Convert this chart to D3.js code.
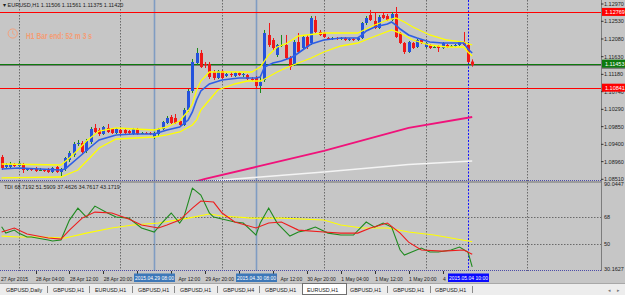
<!DOCTYPE html>
<html>
<head>
<meta charset="utf-8">
<script src="https://cdn.jsdelivr.net/npm/d3@7"></script>
<style>
html, body { margin: 0; padding: 0; background: #c6c6c6; overflow: hidden; }
svg { display: block; font-family: "Liberation Sans", Arial, sans-serif; }
.ax { font-size: 5.5px; fill: #1c1c1c; }
.tm { font-size: 5px; fill: #1c1c1c; }
.tab { font-size: 5.4px; fill: #202020; }
</style>
</head>
<body>
<script>
// EURUSD H1, bar 0 = 27 Apr 2015 20:00 ... bar 111 = 4 May 2015 11:00 (weekend skipped)
var opens = [1.09078,1.08824,1.08824,1.08874,1.08849,1.08900,1.08747,1.08773,1.08773,1.08747,
  1.08747,1.08773,1.08696,1.08824,1.08696,1.08773,1.09002,1.09129,1.09409,1.09434,
  1.09231,1.09460,1.09816,1.09765,1.09663,1.09816,1.09790,1.09688,1.09765,1.09765,
  1.09739,1.09663,1.09790,1.09688,1.09688,1.09688,1.09587,1.09663,1.09790,1.09943,
  1.10095,1.10070,1.09994,1.09892,1.10274,1.10757,1.11469,1.11724,1.11444,1.11444,
  1.11240,1.11088,1.11266,1.11139,1.11189,1.11139,1.11215,1.11164,1.11164,1.11062,
  1.11088,1.10884,1.11037,1.12182,1.12054,1.11673,1.11927,1.11927,1.11596,1.11418,
  1.12003,1.11851,1.12131,1.11978,1.12563,1.12258,1.12232,1.12105,1.12080,1.12105,
  1.12080,1.12105,1.12054,1.12080,1.12054,1.12105,1.12487,1.12690,1.12538,1.12360,
  1.12690,1.12665,1.12563,1.12716,1.12232,1.11978,1.11749,1.11978,1.11876,1.12054,
  1.11876,1.11927,1.11876,1.11902,1.11851,1.11927,1.11902,1.11902,1.11927,1.12003,
  1.11927,1.11506];
var highs = [1.09129,1.08925,1.08951,1.08925,1.08976,1.08925,1.08798,1.08798,1.08824,1.08798,
  1.08773,1.08798,1.08824,1.08849,1.08798,1.09078,1.09231,1.09460,1.09510,1.09485,
  1.09536,1.09841,1.09917,1.09816,1.09866,1.09917,1.09816,1.09816,1.09790,1.09790,
  1.09765,1.09816,1.09816,1.09714,1.09714,1.09714,1.09714,1.09816,1.09994,1.10121,
  1.10146,1.10172,1.10019,1.10325,1.10808,1.11571,1.11851,1.11800,1.11495,1.11495,
  1.11291,1.11291,1.11291,1.11215,1.11240,1.11240,1.11240,1.11215,1.11189,1.11113,
  1.11139,1.11164,1.12309,1.12487,1.12105,1.11953,1.12182,1.12182,1.11647,1.12054,
  1.12232,1.12182,1.12182,1.12665,1.12665,1.12309,1.12258,1.12131,1.12131,1.12131,
  1.12131,1.12131,1.12105,1.12105,1.12131,1.12512,1.12665,1.12818,1.12741,1.12690,
  1.12741,1.12716,1.12767,1.12894,1.12258,1.12003,1.12029,1.12003,1.12080,1.12080,
  1.12003,1.11953,1.11902,1.11927,1.12003,1.11953,1.11927,1.11953,1.12029,1.12258,
  1.11953,1.11561];
var lows = [1.08747,1.08798,1.08798,1.08824,1.08824,1.08671,1.08722,1.08722,1.08696,1.08722,
  1.08696,1.08671,1.08671,1.08671,1.08594,1.08722,1.08951,1.09078,1.09358,1.09154,
  1.09180,1.09409,1.09688,1.09612,1.09638,1.09688,1.09663,1.09663,1.09663,1.09663,
  1.09663,1.09638,1.09638,1.09663,1.09663,1.09638,1.09536,1.09612,1.09765,1.09917,
  1.09917,1.09917,1.09841,1.09866,1.10223,1.10706,1.11418,1.11342,1.11342,1.11062,
  1.11037,1.11062,1.11062,1.11113,1.11113,1.11113,1.11139,1.11113,1.11037,1.11011,
  1.10833,1.10706,1.10986,1.11876,1.11800,1.11622,1.11876,1.11571,1.11291,1.11393,
  1.11724,1.11800,1.11825,1.11927,1.12232,1.12156,1.12105,1.12054,1.12054,1.12054,
  1.12054,1.12029,1.12029,1.12029,1.12029,1.12080,1.12436,1.12538,1.12334,1.12334,
  1.12589,1.12538,1.12538,1.12105,1.11953,1.11698,1.11724,1.11825,1.11851,1.11953,
  1.11851,1.11825,1.11851,1.11749,1.11825,1.11851,1.11876,1.11876,1.11902,1.11902,
  1.11469,1.11375];
var closes = [1.08798,1.08874,1.08900,1.08849,1.08925,1.08747,1.08773,1.08747,1.08722,1.08747,
  1.08722,1.08696,1.08798,1.08696,1.08773,1.09052,1.09180,1.09409,1.09434,1.09205,
  1.09485,1.09790,1.09714,1.09663,1.09841,1.09714,1.09688,1.09790,1.09688,1.09688,
  1.09688,1.09790,1.09663,1.09688,1.09663,1.09663,1.09688,1.09790,1.09968,1.10070,
  1.09943,1.09943,1.09892,1.10274,1.10757,1.11495,1.11724,1.11367,1.11418,1.11113,
  1.11088,1.11266,1.11088,1.11189,1.11164,1.11215,1.11164,1.11189,1.11062,1.11037,
  1.10884,1.10986,1.12232,1.11927,1.11851,1.11927,1.11927,1.11596,1.11367,1.12003,
  1.11749,1.12131,1.11876,1.12614,1.12258,1.12182,1.12131,1.12080,1.12105,1.12080,
  1.12105,1.12054,1.12080,1.12054,1.12105,1.12487,1.12614,1.12563,1.12360,1.12639,
  1.12614,1.12563,1.12716,1.12131,1.11978,1.11749,1.12003,1.11851,1.12054,1.11978,
  1.11978,1.11851,1.11876,1.11851,1.11978,1.11876,1.11902,1.11927,1.12003,1.11927,
  1.11495,1.11420];

// moving averages (bar index, price)
var blueIdx = [0,4,9,14,15,18,21,23,27,31,36,39,42,44,45,46,47,49,52,56,60,61,62,64,66,68,69,71,73,76,80,84,85,86,88,91,92,93,94,96,98,101,104,108,109,110,111];
var blueVal = [1.08773,1.08798,1.08773,1.08747,1.08773,1.09052,1.09332,1.09510,1.09638,1.09663,1.09663,1.09765,1.09841,1.10019,1.10223,1.10528,1.10757,1.10935,1.11037,1.11088,1.11088,1.11113,1.11367,1.11469,1.11520,1.11596,1.11647,1.11800,1.11953,1.12054,1.12105,1.12105,1.12182,1.12283,1.12385,1.12461,1.12512,1.12436,1.12334,1.12182,1.12105,1.12003,1.11978,1.11978,1.11978,1.11825,1.11724];
var upIdx = [0,14,16,18,20,23,27,36,39,42,44,45,46,47,49,52,59,61,63,65,67,70,76,84,86,88,91,93,95,97,101,105,109,111];
var upVal = [1.08900,1.08874,1.09052,1.09256,1.09485,1.09739,1.09816,1.09765,1.09841,1.09994,1.10248,1.10426,1.10782,1.11011,1.11240,1.11240,1.11240,1.11367,1.11673,1.11876,1.11953,1.12156,1.12232,1.12232,1.12334,1.12436,1.12563,1.12614,1.12512,1.12385,1.12182,1.12054,1.12003,1.11927];
var loIdx = [0,14,18,21,23,27,36,39,42,45,46,47,49,51,55,58,61,62,65,67,70,73,76,80,84,87,92,94,97,101,105,109,110,111];
var loVal = [1.08544,1.08569,1.08747,1.09078,1.09307,1.09536,1.09587,1.09638,1.09714,1.09892,1.10019,1.10274,1.10528,1.10782,1.10935,1.11011,1.11011,1.11062,1.11240,1.11342,1.11469,1.11596,1.11749,1.11902,1.11978,1.12105,1.12309,1.12232,1.12054,1.11927,1.11876,1.11876,1.11749,1.11647];
var pinkIdx = [40,48,60,76,96,111];
var pinkVal = [1.08289,1.08518,1.08824,1.09231,1.09816,1.10095];
var whiteIdx = [50,55,76,96,111];
var whiteVal = [1.08467,1.08518,1.08696,1.08887,1.08976];

// TDI sub window
var tdiGreenIdx = [0,1,3,4,6,7,11,12,14,16,18,20,22,25,27,30,33,36,38,40,42,43,45,47,49,50,53,55,57,60,61,63,65,68,70,72,74,77,80,83,86,88,90,92,94,95,99,101,103,106,108,110,111];
var tdiGreenVal = [61.5,57.3,59.3,57.3,54.7,54.7,52.7,52.0,52.7,66.0,74.0,68.0,75.3,70.7,68.0,67.3,60.7,58.0,64.7,70.7,64.0,68.0,87.3,82.7,70.7,68.0,66.0,64.7,64.0,56.0,64.0,74.0,64.0,55.3,58.0,59.3,61.3,57.3,56.0,56.0,64.7,61.3,64.0,61.3,46.0,42.7,47.3,44.7,44.7,46.0,48.0,44.7,34.76];
var tdiRedIdx = [0,3,6,11,14,16,19,22,26,30,33,37,39,42,45,47,50,52,55,60,63,66,70,76,80,84,87,91,94,96,99,104,109,111];
var tdiRedVal = [58.0,60.7,56.7,54.0,53.3,59.3,67.3,71.3,70.7,66.7,62.7,60.7,62.7,66.0,74.0,78.7,78.0,70.7,64.7,60.7,64.0,64.7,59.3,58.0,57.3,57.3,60.7,64.0,57.3,51.3,46.0,45.3,46.0,43.17];
var tdiYelIdx = [0,4,9,15,20,26,31,37,44,49,52,59,66,76,80,85,91,96,102,111];
var tdiYelVal = [55.3,54.7,54.7,54.0,57.3,60.7,62.7,64.0,67.3,70.0,68.7,67.3,67.3,66.0,62.7,60.7,60.7,58.0,56.0,51.59];
var tdiLevels = [68, 50];
var tdiMin = 30.1627, tdiMax = 90.0447;

// price scale, horizontal lines, vertical line objects, time labels
var priceTicks = [1.12970,1.12530,1.12080,1.11630,1.11180,1.10740,1.10290,1.09850,1.09400,1.08960,1.08510];
var hLines = [1.11420, 1.11453, 1.12769, 1.10841];
var hColors = ["#7a7a7a", "#0d7a0d", "#ff0000", "#ff0000"];
var dayStarts = [4, 28, 52, 76, 100, 124];
var vIdx = [36, 60, 110];
var vLabels = ["2015.04.29 08:00", "2015.04.30 08:00", "2015.05.04 10:00"];
var timeIdx = [8,16,24,32,40,48,56,64,72,80,88,96,104];
var timeLabels = ["28 Apr 04:00","28 Apr 12:00","28 Apr 20:00","29 Apr 04:00","29 Apr 12:00","29 Apr 20:00",
  "30 Apr 04:00","30 Apr 12:00","30 Apr 20:00","1 May 04:00","1 May 12:00","1 May 20:00","4 May 04:00"];
var tabs = ["GBPUSD,Daily","GBPUSD,H1","EURUSD,H1","GBPUSD,H1","GBPUSD,H1","GBPUSD,H4","GBPUSD,H1","EURUSD,H1","GBPUSD,H1","GBPUSD,H1","GBPUSD,H1"];
var activeTab = 7;

var W = 625, H = 295;
var plotR = 601;
var mainBot = 181, tdiTop = 182, tdiBot = 271;

var x = d3.scaleLinear().domain([0, 111]).range([1.6, 472.2]);
var y = d3.scaleLinear().domain([1.08467, 1.13072]).range([mainBot, 0]);
var yT = d3.scaleLinear().domain([tdiMin, tdiMax]).range([273.8, 184]);

var svg = d3.select("body").append("svg")
  .attr("width", W).attr("height", H);

svg.append("rect").attr("width", W).attr("height", H).attr("fill", "#c6c6c6");

var defs = svg.append("defs");
defs.append("clipPath").attr("id", "clipMain").append("rect")
  .attr("x", 0).attr("y", 0).attr("width", plotR).attr("height", mainBot);
defs.append("clipPath").attr("id", "clipTdi").append("rect")
  .attr("x", 0).attr("y", tdiTop).attr("width", plotR).attr("height", tdiBot - tdiTop);

function px(i) { return Math.round(x(i)) + 0.5; }

// vertical grid (midnight of each day) through both windows
svg.append("g").selectAll("line").data(dayStarts).enter().append("line")
  .attr("x1", px).attr("x2", px)
  .attr("y1", 0).attr("y2", tdiBot)
  .attr("stroke", "#6a6a6a").attr("stroke-dasharray", "1.5,1.5");

// vertical line objects
svg.append("g").selectAll("line").data(vIdx).enter().append("line")
  .attr("x1", px).attr("x2", px)
  .attr("y1", 0).attr("y2", tdiBot)
  .attr("stroke", function(d, i){ return i < 2 ? "#7f9cc2" : "#1010ff"; })
  .attr("stroke-width", function(d, i){ return i < 2 ? 1.6 : 1; })
  .attr("stroke-dasharray", function(d, i){ return i < 2 ? null : "2,1.5"; });

// ---------- main window ----------
var main = svg.append("g").attr("clip-path", "url(#clipMain)");

main.selectAll("line.hl").data(hLines).enter().append("line")
  .attr("class", "hl")
  .attr("x1", 0).attr("x2", plotR)
  .attr("y1", function(d){ return Math.round(y(d)) + 0.5; })
  .attr("y2", function(d){ return Math.round(y(d)) + 0.5; })
  .attr("stroke", function(d, i){ return hColors[i]; })
  .attr("stroke-width", 1.2);

function maLine(idx, vals, color, w) {
  var pts = idx.map(function(d, k){ return [x(d), y(vals[k])]; });
  main.append("path").attr("d", d3.line()(pts))
    .attr("fill", "none").attr("stroke", color).attr("stroke-width", w);
}
maLine(whiteIdx, whiteVal, "#f4f4f4", 1.6);
maLine(pinkIdx, pinkVal, "#f0127a", 1.8);

var bars = opens.map(function(o, i){ return {i: i, o: o, h: highs[i], l: lows[i], c: closes[i]}; });
var cg = main.append("g");
cg.selectAll("line.wick").data(bars).enter().append("line")
  .attr("class", "wick")
  .attr("x1", function(d){ return px(d.i); }).attr("x2", function(d){ return px(d.i); })
  .attr("y1", function(d){ return y(d.h); }).attr("y2", function(d){ return y(d.l); })
  .attr("stroke", function(d){ return d.c < d.o ? "#f01818" : "#1b8a1b"; });
cg.selectAll("rect").data(bars).enter().append("rect")
  .attr("x", function(d){ return Math.round(x(d.i)) - 1; })
  .attr("width", 3)
  .attr("y", function(d){ return y(Math.max(d.o, d.c)); })
  .attr("height", function(d){ return Math.max(1, Math.abs(y(d.o) - y(d.c))); })
  .attr("fill", function(d){
    if (Math.abs(d.c - d.o) < 0.00002) return "#1b8a1b";
    return d.c < d.o ? "#f01818" : "#2452dc";
  });

maLine(loIdx, loVal, "#ffff00", 1.3);
maLine(upIdx, upVal, "#ffff00", 1.3);
maLine(blueIdx, blueVal, "#2e5ee6", 1.6);

// window frame lines
svg.append("line").attr("x1", 0).attr("x2", plotR).attr("y1", 180.5).attr("y2", 180.5)
  .attr("stroke", "#4c4ca8").attr("stroke-dasharray", "1,1");
svg.append("line").attr("x1", 0).attr("x2", plotR).attr("y1", 182).attr("y2", 182)
  .attr("stroke", "#8e8e8e").attr("stroke-width", 1.5);
svg.append("line").attr("x1", 0).attr("x2", plotR).attr("y1", 270.5).attr("y2", 270.5)
  .attr("stroke", "#4c4ca8").attr("stroke-dasharray", "1,1");

// header and bar timer
svg.append("text").attr("class", "ax").attr("x", 3).attr("y", 6.5)
  .text("\u25BE EURUSD,H1  1.11506 1.11561 1.11375 1.11420");
svg.append("circle").attr("cx", 12.7).attr("cy", 33.5).attr("r", 4.6)
  .attr("fill", "none").attr("stroke", "#f4a07c").attr("stroke-width", 1);
svg.append("path").attr("d", "M12.7,30.5V33.5L14.8,35")
  .attr("fill", "none").attr("stroke", "#f4a07c").attr("stroke-width", 0.9);
svg.append("text").attr("x", 26).attr("y", 39)
  .attr("font-size", "9.2px").attr("font-weight", "bold").attr("fill", "#f59c74")
  .attr("textLength", 66).attr("lengthAdjust", "spacingAndGlyphs")
  .text("H1 Bar end: 52 m 3 s");

// ---------- TDI window ----------
var tdi = svg.append("g").attr("clip-path", "url(#clipTdi)");
tdi.selectAll("line.lv").data(tdiLevels).enter().append("line")
  .attr("x1", 0).attr("x2", plotR)
  .attr("y1", function(d){ return Math.round(yT(d)) + 0.5; })
  .attr("y2", function(d){ return Math.round(yT(d)) + 0.5; })
  .attr("stroke", "#6a6a6a").attr("stroke-dasharray", "1.5,1.5");

function tdiLine(idx, vals, color) {
  var pts = idx.map(function(d, k){ return [x(d), yT(vals[k])]; });
  tdi.append("path").attr("d", d3.line()(pts))
    .attr("fill", "none").attr("stroke", color).attr("stroke-width", 1.1);
}
tdiLine(tdiYelIdx, tdiYelVal, "#ffff00");
tdiLine(tdiGreenIdx, tdiGreenVal, "#1f8a1f");
tdiLine(tdiRedIdx, tdiRedVal, "#ee1c1c");

svg.append("text").attr("class", "ax").attr("x", 4).attr("y", 188.5)
  .text("TDI 68.7192 51.5909 37.4626 34.7617 43.1719");

// ---------- price scale ----------
svg.append("line").attr("x1", plotR + 0.5).attr("x2", plotR + 0.5).attr("y1", 0).attr("y2", tdiBot)
  .attr("stroke", "#7c7c7c");
var pa = svg.append("g");
pa.selectAll("line").data(priceTicks).enter().append("line")
  .attr("x1", plotR).attr("x2", plotR + 2.5)
  .attr("y1", function(d){ return y(d); }).attr("y2", function(d){ return y(d); })
  .attr("stroke", "#333");
pa.selectAll("text").data(priceTicks).enter().append("text")
  .attr("class", "ax").attr("x", 604)
  .attr("y", function(d){ return y(d) + 2; })
  .text(function(d){ return d.toFixed(5); });

var boxes = svg.append("g").selectAll("g").data(hLines).enter().append("g")
  .attr("transform", function(d){ return "translate(" + (plotR + 1) + "," + y(d) + ")"; });
boxes.append("rect").attr("x", 0).attr("y", -4).attr("width", 24).attr("height", 8)
  .attr("fill", function(d, i){ return hColors[i]; });
boxes.append("text").attr("class", "ax").attr("x", 3).attr("y", 2)
  .style("fill", "#ffffff")
  .text(function(d){ return d.toFixed(5); });

var tdiAxis = [tdiMax, 68, 50, tdiMin];
svg.append("g").selectAll("text").data(tdiAxis).enter().append("text")
  .attr("class", "ax").attr("x", 604)
  .attr("y", function(d, i){
    if (i === 0) return tdiTop + 4;
    if (i === 3) return tdiBot;
    return yT(d) + 2;
  })
  .text(function(d, i){ return (i === 0 || i === 3) ? d.toFixed(4) : d; });

// ---------- time scale ----------
var ta = svg.append("g");
ta.append("text").attr("class", "tm").attr("x", 1).attr("y", 280.5).text("27 Apr 2015");
ta.selectAll("line").data(timeIdx).enter().append("line")
  .attr("x1", px).attr("x2", px).attr("y1", 271).attr("y2", 274)
  .attr("stroke", "#333");

// the time boxes of the vertical lines hide the labels below them
var boxSpan = vIdx.map(function(d){ return [px(d) - 20.5, px(d) + 20.5]; });
timeIdx.forEach(function(d, k){
  var x0 = x(d) + 0.5;
  var t = ta.append("text").attr("class", "tm").attr("x", x0).attr("y", 280.5).text(timeLabels[k]);
  var w = t.node().getComputedTextLength();
  boxSpan.forEach(function(b){
    if (x0 >= b[0] && x0 <= b[1]) {
      if (x0 + w <= b[1]) t.remove();
      else t.text(timeLabels[k].replace(/^\S+\s/, "")).attr("x", b[1] + 3.5);
    } else if (x0 < b[0] && x0 + w > b[0] + 1) {
      t.text(timeLabels[k].split(" ")[0]);
    }
  });
});

var vb = svg.append("g").selectAll("g").data(vIdx).enter().append("g")
  .attr("transform", function(d){ return "translate(" + px(d) + ",0)"; });
vb.append("rect").attr("x", -20.5).attr("y", 273.5).attr("width", 41).attr("height", 8.5)
  .attr("fill", function(d, i){ return i < 2 ? "#3d78b8" : "#0a0aff"; });
vb.append("text").attr("class", "tm").attr("text-anchor", "middle").attr("y", 280)
  .style("fill", "#ffffff")
  .text(function(d, i){ return vLabels[i]; });

// ---------- tabs ----------
svg.append("rect").attr("x", 0).attr("y", 283).attr("width", W).attr("height", 12).attr("fill", "#ededed");
svg.append("line").attr("x1", 0).attr("x2", W).attr("y1", 283.5).attr("y2", 283.5).attr("stroke", "#a8a8a8");
var tabX = [6, 53, 95, 138, 180, 223, 265, 307, 350, 393, 435];
var sepX = [47, 89, 132, 174, 217, 259, 387, 430, 472];
svg.append("rect").attr("x", 302.5).attr("y", 283.5).attr("width", 44).attr("height", 11)
  .attr("fill", "#ffffff").attr("stroke", "#707070");
svg.append("g").selectAll("text").data(tabs).enter().append("text")
  .attr("class", "tab").attr("x", function(d, i){ return tabX[i]; }).attr("y", 291.5)
  .text(function(d){ return d; });
svg.append("g").selectAll("line").data(sepX).enter().append("line")
  .attr("x1", function(d){ return d + 0.5; }).attr("x2", function(d){ return d + 0.5; })
  .attr("y1", 286).attr("y2", 293).attr("stroke", "#8a8a8a");
svg.append("text").attr("class", "tab").attr("x", 608).attr("y", 291.5).style("fill", "#777").text("\u25C2");
svg.append("text").attr("class", "tab").attr("x", 617).attr("y", 291.5).style("fill", "#777").text("\u25B8");
</script>
</body>
</html>
